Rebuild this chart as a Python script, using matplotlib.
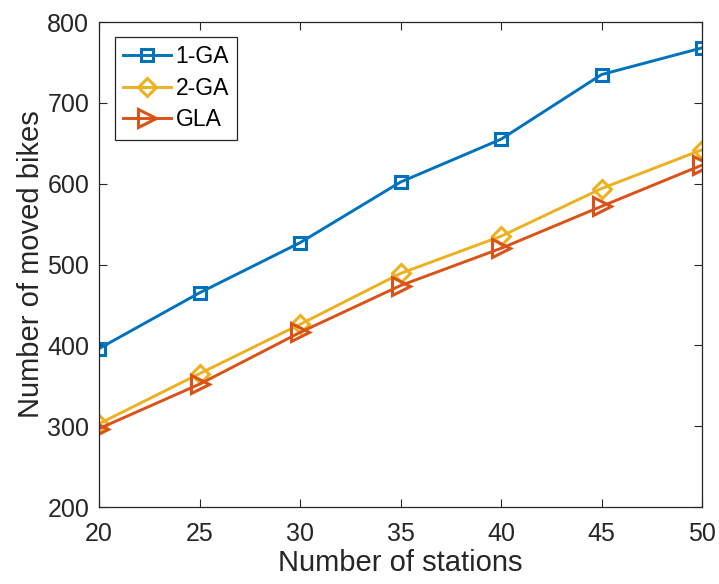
import matplotlib
matplotlib.use('Agg')
import matplotlib.pyplot as plt

stations = [20, 25, 30, 35, 40, 45, 50]
ga1 = [396, 465, 527, 602, 655, 735, 768]
ga2 = [303, 365, 426, 489, 535, 594, 642]
gla = [297, 352, 416, 474, 520, 572, 623]

plt.rcParams['font.family'] = ['Liberation Sans', 'DejaVu Sans']
dark = '#262626'

fig = plt.figure(figsize=(7.19, 5.84), dpi=100)
ax = fig.add_axes([0.1377, 0.1318, 0.8387, 0.8305])

ax.plot(stations, ga1, color='#0072BD', marker='s', lw=2.1, ms=9,
        mfc='none', mew=2.2, label='1-GA')
ax.plot(stations, ga2, color='#EDB120', marker='D', lw=2.1, ms=9,
        mfc='none', mew=2.2, label='2-GA')
ax.plot(stations, gla, color='#D95319', marker='>', lw=2.1, ms=13,
        mfc='none', mew=2.2, label='GLA')

ax.set_xlim(20, 50)
ax.set_ylim(200, 800)
ax.set_xticks(stations)
ax.set_yticks(range(200, 801, 100))
ax.tick_params(direction='in', top=True, right=True, labelsize=18,
               colors=dark, length=6, width=0.8)
ax.tick_params(axis='x', pad=11)
ax.tick_params(axis='y', pad=7)
for s in ax.spines.values():
    s.set_color(dark)
    s.set_linewidth(0.9)

ax.set_xlabel('Number of stations', fontsize=21, color=dark, labelpad=2)
ax.set_ylabel('Number of moved bikes', fontsize=21, color=dark, labelpad=2)

leg = ax.legend(loc='upper left', bbox_to_anchor=(0.0265, 0.969),
                borderaxespad=0, fontsize=16.5, fancybox=False, framealpha=1,
                edgecolor=dark, handlelength=2.1, handletextpad=0.2,
                borderpad=0.35, labelspacing=0.38)
leg.get_frame().set_linewidth(0.9)

fig.savefig('out.png', dpi=100)
